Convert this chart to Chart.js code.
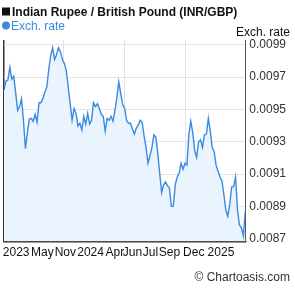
<!DOCTYPE html>
<html>
<head>
<meta charset="utf-8">
<script src="https://cdn.jsdelivr.net/npm/chart.js@4/dist/chart.umd.min.js"></script>
<style>
html,body{margin:0;padding:0;background:#fff;}
#wrap{width:295px;height:288px;position:relative;}
</style>
</head>
<body>
<div id="wrap"><canvas id="c" width="295" height="288"></canvas></div>
<script>
const chartTitle = "Indian Rupee / British Pound (INR/GBP)";
const seriesName = "Exch. rate";
const axisTitle = "Exch. rate";
const credit = "\u00A9 Chartoasis.com";

const rates = [
  0.009621, 0.009676, 0.009682, 0.009761, 0.009688, 0.009706, 0.009603, 0.009494, 0.009518, 0.009567,
  0.009433, 0.009258, 0.009355, 0.009439, 0.009445, 0.009427, 0.009470, 0.009421, 0.009542, 0.009542,
  0.009567, 0.009609, 0.009639, 0.009748, 0.009833, 0.009882, 0.009809, 0.009839, 0.009882, 0.009858,
  0.009809, 0.009785, 0.009742, 0.009639, 0.009536, 0.009433, 0.009506, 0.009476, 0.009397, 0.009415,
  0.009373, 0.009458, 0.009409, 0.009476, 0.009409, 0.009433, 0.009542, 0.009518, 0.009536, 0.009506,
  0.009470, 0.009458, 0.009367, 0.009445, 0.009433, 0.009458, 0.009427, 0.009494, 0.009573, 0.009670,
  0.009597, 0.009530, 0.009506, 0.009433, 0.009415, 0.009415, 0.009379, 0.009348, 0.009385, 0.009403,
  0.009433, 0.009421, 0.009336, 0.009264, 0.009167, 0.009215, 0.009264, 0.009342, 0.009330, 0.009233,
  0.009106, 0.008985, 0.009033, 0.009052, 0.009027, 0.009015, 0.008900, 0.008900, 0.009033, 0.009082,
  0.009106, 0.009167, 0.009130, 0.009167, 0.009155, 0.009348, 0.009427, 0.009355, 0.009245, 0.009203,
  0.009300, 0.009312, 0.009264, 0.009342, 0.009348, 0.009445, 0.009367, 0.009264, 0.009239, 0.009155,
  0.009118, 0.009082, 0.009058, 0.008973, 0.008876, 0.008839, 0.008912, 0.009021, 0.009021, 0.009082,
  0.008876, 0.008785, 0.008767, 0.008718, 0.008870
];

// x tick labels and the data index each one sits at
const xTickLabels = ["2023", "May", "Nov", "2024", "Apr", "Jun", "Jul", "Sep", "Dec", "2025"];
const xTickIndex  = [6.25, 19.75, 31.5, 44.5, 57, 66, 75.25, 85, 97.5, 111.5];
// vertical grid divisions (data index)
const xGridIndex = [30.75, 62, 93.25];

const yTicks = [0.0087, 0.0089, 0.0091, 0.0093, 0.0095, 0.0097, 0.0099];
const yMin = 0.008682;
const yMax = 0.00993;

const points = rates.map((v, i) => ({x: i, y: v}));
const lastIdx = rates.length - 1;

const LINE = '#3a8ae0';
const FILL = '#eaf4fe';
const FONT = "'Liberation Sans', Arial, sans-serif";

const headerPlugin = {
  id: 'header',
  afterDraw(chart) {
    const ctx = chart.ctx;
    ctx.save();
    ctx.fillStyle = '#111';
    ctx.fillRect(2, 7.5, 8, 8);
    ctx.font = "bold 12px " + FONT;
    ctx.textBaseline = 'alphabetic';
    ctx.textAlign = 'left';
    ctx.fillText(chartTitle, 12, 16);
    ctx.fillStyle = LINE;
    ctx.beginPath();
    ctx.arc(6, 25.5, 4, 0, Math.PI * 2);
    ctx.fill();
    ctx.font = "12px " + FONT;
    ctx.fillText(seriesName, 11, 29.5);
    ctx.fillStyle = '#111';
    ctx.textAlign = 'right';
    ctx.fillText(axisTitle, 290, 36);
    ctx.fillStyle = '#333';
    ctx.fillText(credit, 290, 281);
    ctx.restore();
  }
};

new Chart(document.getElementById('c'), {
  type: 'line',
  data: {
    datasets: [{
      label: seriesName,
      data: points,
      borderColor: LINE,
      backgroundColor: FILL,
      borderWidth: 1.4,
      pointRadius: 0,
      tension: 0,
      fill: 'start'
    }]
  },
  options: {
    responsive: false,
    animation: false,
    layout: {padding: {top: 40, left: 1, right: 5, bottom: 24}},
    plugins: {legend: {display: false}, title: {display: false}, tooltip: {enabled: false}},
    scales: {
      x: {
        type: 'linear',
        min: 0,
        max: lastIdx,
        afterBuildTicks(axis) {
          const t = [{value: 0}];
          xGridIndex.forEach(v => t.push({value: v}));
          xTickIndex.forEach(v => t.push({value: v}));
          axis.ticks = t;
        },
        grid: {
          drawTicks: false,
          color: (ctx) => {
            const v = ctx.tick ? ctx.tick.value : null;
            if (v === 0) return '#333';
            if (xGridIndex.includes(v)) return '#e4e4e4';
            return 'rgba(0,0,0,0)';
          },
          lineWidth: (ctx) => (ctx.tick && ctx.tick.value === 0) ? 1.5 : 1
        },
        border: {display: true, color: '#333', width: 1.5},
        ticks: {
          autoSkip: false,
          maxRotation: 0,
          padding: 4,
          color: '#111',
          font: {family: FONT, size: 12},
          callback: (val) => {
            const k = xTickIndex.indexOf(val);
            return k >= 0 ? xTickLabels[k] : '';
          }
        }
      },
      y: {
        position: 'right',
        min: yMin,
        max: yMax,
        afterBuildTicks(axis) {
          axis.ticks = yTicks.map(v => ({value: v}));
        },
        grid: {drawTicks: false, color: '#e4e4e4'},
        border: {display: true, color: '#555', width: 1},
        ticks: {
          padding: 4,
          color: '#333',
          font: {family: FONT, size: 12},
          callback: (v) => Number(v).toFixed(4)
        }
      }
    }
  },
  plugins: [headerPlugin]
});
</script>
</body>
</html>
